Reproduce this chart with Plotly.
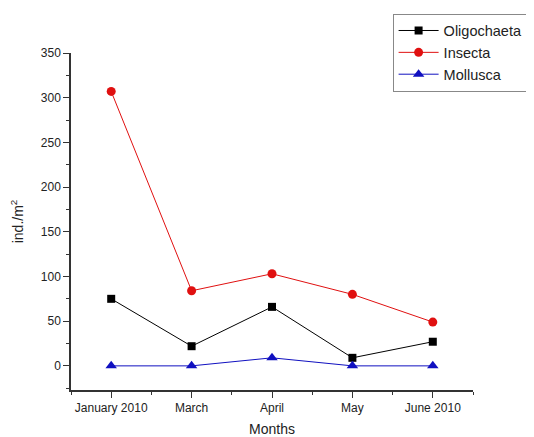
import plotly.graph_objects as go

months = ["January 2010", "March", "April", "May", "June 2010"]
oligochaeta = [75, 22, 66, 9, 27]
insecta = [307, 84, 103, 80, 49]
mollusca = [0, 0, 9, 0, 0]

x = list(range(len(months)))

fig = go.Figure()
fig.add_trace(go.Scatter(x=x, y=oligochaeta, name="Oligochaeta", mode="lines+markers",
                         line=dict(color="black", width=1),
                         marker=dict(symbol="square", size=8, color="black")))
fig.add_trace(go.Scatter(x=x, y=insecta, name="Insecta", mode="lines+markers",
                         line=dict(color="#e01010", width=1),
                         marker=dict(symbol="circle", size=9, color="#e01010")))
fig.add_trace(go.Scatter(x=x, y=mollusca, name="Mollusca", mode="lines+markers",
                         line=dict(color="#1010c0", width=1),
                         marker=dict(symbol="triangle-up", size=10, color="#1010c0")))

# page body has an 8px margin, so the figure is sized/positioned to compensate
fig.update_layout(
    width=526, height=429,
    margin=dict(l=63, r=61, t=45, b=47, autoexpand=False),
    paper_bgcolor="white", plot_bgcolor="white",
    font=dict(family="Liberation Sans, Arial, sans-serif", size=12, color="#222"),
    showlegend=True,
    legend=dict(x=0.80, y=1.117, xanchor="left", yanchor="top",
                bordercolor="#888", borderwidth=1, bgcolor="white",
                font=dict(size=14.5), tracegroupgap=0, itemwidth=40),
    xaxis=dict(range=[-0.5, 4.5], tickmode="array", tickvals=x, ticktext=months,
               showline=True, linecolor="#333", linewidth=1.5, mirror=False,
               ticks="outside", ticklen=6, tickcolor="#333", showgrid=False, zeroline=False,
               automargin=False,
               minor=dict(dtick=0.5, tick0=0.5, ticks="outside", ticklen=3, tickcolor="#333", showgrid=False),
               title=dict(text="Months", font=dict(size=14), standoff=10)),
    yaxis=dict(range=[-27, 350], tickmode="linear", tick0=0, dtick=50,
               showline=True, linecolor="#333", linewidth=1.5,
               ticks="outside", ticklen=6, tickcolor="#333", showgrid=False, zeroline=False,
               automargin=False,
               minor=dict(dtick=25, ticks="outside", ticklen=3, tickcolor="#333", showgrid=False),
               title=dict(text="ind./m<sup>2</sup>", font=dict(size=14), standoff=14)),
)

fig.write_html("out.html")
